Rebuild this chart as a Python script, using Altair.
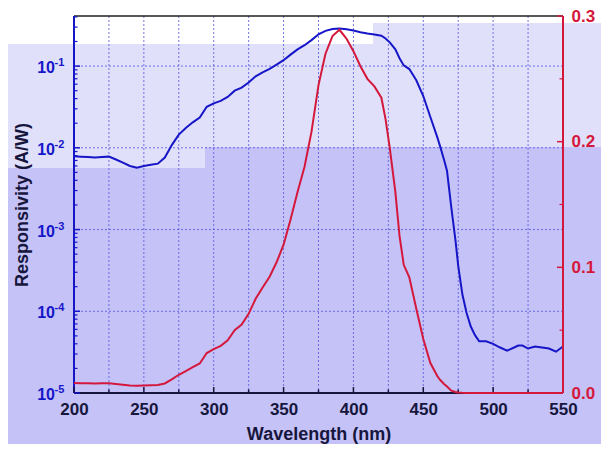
import altair as alt
import pandas as pd

# ---- data ----
wavelength = [200, 205, 210, 215, 220, 225, 230, 235, 240, 245, 250, 255, 260, 265, 270,
              275, 280, 285, 290, 295, 300, 305, 310, 315, 320, 325, 330, 335, 340, 345,
              350, 355, 360, 365, 370, 375, 380, 385, 390, 395, 400, 405, 410, 415, 420,
              423, 426, 430, 433, 436, 440, 445, 450, 455, 460, 462, 465, 467, 470, 473,
              475, 478, 481, 484, 487, 490, 495, 500, 505, 510, 515, 518, 521, 525, 530,
              535, 540, 545, 550]
responsivity = [0.0079, 0.0078, 0.0077, 0.0076, 0.0077, 0.0078, 0.0072, 0.0066, 0.0060, 0.0057,
                0.0060, 0.0062, 0.0064, 0.0076, 0.0108, 0.0145, 0.0175, 0.0205, 0.0235, 0.0318,
                0.0350, 0.0375, 0.0420, 0.0500, 0.0545, 0.0630, 0.0750, 0.0840, 0.0925, 0.1040,
                0.1180, 0.1380, 0.1600, 0.1800, 0.2080, 0.2450, 0.2700, 0.2840, 0.2890, 0.2820,
                0.2720, 0.2600, 0.2500, 0.2440, 0.2350, 0.2180, 0.1950, 0.1600, 0.1250, 0.1020,
                0.0920, 0.0670, 0.0430, 0.0240, 0.0135, 0.0105, 0.0070, 0.0052, 0.0019, 0.00075,
                0.00036, 0.00016, 0.000095, 0.000065, 0.000051, 0.000043, 0.000043, 0.000040,
                0.000036, 0.000033, 0.000036, 0.000038, 0.000038, 0.000035, 0.000037, 0.000036,
                0.000035, 0.000032, 0.000037]

x_major = [200, 250, 300, 350, 400, 450, 500, 550]
x_minor = [225, 275, 325, 375, 425, 475, 525]
decades = [1e-5, 1e-4, 1e-3, 1e-2, 1e-1]
decade_exp = ["-5", "-4", "-3", "-2", "-1"]
log_minor = [2e-5, 3e-5, 4e-5, 5e-5, 6e-5, 7e-5, 8e-5, 9e-5,
             2e-4, 3e-4, 4e-4, 5e-4, 6e-4, 7e-4, 8e-4, 9e-4,
             2e-3, 3e-3, 4e-3, 5e-3, 6e-3, 7e-3, 8e-3, 9e-3,
             2e-2, 3e-2, 4e-2, 5e-2, 6e-2, 7e-2, 8e-2, 9e-2,
             2e-1, 3e-1, 4e-1]
lin_major = [0.0, 0.1, 0.2, 0.3]
lin_minor = [0.05, 0.15, 0.25]

# ---- styling ----
W, H = 489, 377
FONT = "Liberation Sans"
BLUE = "#1616c8"
RED = "#d4183c"
NAVY = "#16163c"
GRID = "#5c5ce0"
LIGHT = "#e0e0fb"
DARK = "#c5c2f8"

df = pd.DataFrame({"W": wavelength, "R": responsivity})
df_xmaj = pd.DataFrame({"W": x_major})
df_xmin = pd.DataFrame({"W": x_minor})
df_xgrid = pd.DataFrame({"W": x_minor + x_major[1:-1]})
df_dec = pd.DataFrame({"R": decades, "exp": decade_exp})
df_decgrid = pd.DataFrame({"R": decades[1:]})
df_logmin = pd.DataFrame({"R": log_minor})
df_linmaj = pd.DataFrame({"R": lin_major})
df_linmin = pd.DataFrame({"R": lin_minor})
one = pd.DataFrame({"a": [0]})

xs = alt.Scale(domain=[200, 550], nice=False, zero=False)
ys_log = alt.Scale(type="log", domain=[1e-5, 0.41], nice=False)
ys_lin = alt.Scale(domain=[0, 0.3], nice=False, zero=False)

x_axis = alt.Axis(values=x_major, title="Wavelength (nm)", grid=False, ticks=False, domain=False,
                  labelFont=FONT, labelFontSize=17, labelFontWeight="bold", labelColor=NAVY,
                  labelPadding=8, labelFlush=False, labelOverlap=False,
                  titleFont=FONT, titleFontSize=18, titleFontWeight="bold", titleColor=NAVY,
                  titleX=W / 2, titleY=41, titleBaseline="middle", zindex=1)
yl_axis = alt.Axis(orient="left", values=decades, labels=False, ticks=False, domain=False, grid=False,
                   title="Responsivity (A/W)", titleFont=FONT, titleFontSize=18,
                   titleFontWeight="bold", titleColor=NAVY, titleX=-52, titleY=H / 2,
                   titleBaseline="middle", zindex=1)
yr_axis = alt.Axis(orient="right", values=lin_major, format=".1f", title="", grid=False,
                   ticks=False, domain=False, labelFont=FONT, labelFontSize=17,
                   labelFontWeight="bold", labelColor=RED, labelPadding=8,
                   labelFlush=False, labelOverlap=False, zindex=1)

X = alt.X("W:Q", scale=xs, axis=x_axis)
YL = alt.Y("R:Q", scale=ys_log, axis=yl_axis)
YR = alt.Y("R:Q", scale=ys_lin, axis=yr_axis)


def rect(x0, x1, y0, y1, color):
    return alt.Chart(one).mark_rect(color=color).encode(
        x=alt.value(x0), x2=alt.value(x1), y=alt.value(y0), y2=alt.value(y1))


def hline(x0, x1, y, color, w):
    return alt.Chart(one).mark_rule(color=color, strokeWidth=w).encode(
        x=alt.value(x0), x2=alt.value(x1), y=alt.value(y))


def vline(x, y0, y1, color, w):
    return alt.Chart(one).mark_rule(color=color, strokeWidth=w).encode(
        x=alt.value(x), y=alt.value(y0), y2=alt.value(y1))


# background bands (decoration of the original image)
bands = [
    rect(-66, 131, 28, 152, LIGHT),
    rect(131, 299, 28, 131, LIGHT),
    rect(299, 527, 7, 131, LIGHT),
    rect(-66, 299, -8, 28, "white"),
    rect(299, 527, -8, 7, "white"),
]

vgrid = alt.Chart(df_xgrid).mark_rule(color=GRID, strokeWidth=1, strokeDash=[2, 2], opacity=0.85).encode(x=X)
hgrid = alt.Chart(df_decgrid).mark_rule(color=GRID, strokeWidth=1, strokeDash=[2, 2], opacity=0.85).encode(y=YL)

xt_major = alt.Chart(df_xmaj).mark_rule(color=NAVY, strokeWidth=1.5).encode(
    x=X, y=alt.value(H), y2=alt.value(H - 6))
xt_minor = alt.Chart(df_xmin).mark_rule(color=NAVY, strokeWidth=1.5).encode(
    x=X, y=alt.value(H), y2=alt.value(H - 3.5))
yt_major = alt.Chart(df_dec).mark_rule(color=BLUE, strokeWidth=1.5).encode(
    y=YL, x=alt.value(0), x2=alt.value(6))
yt_minor = alt.Chart(df_logmin).mark_rule(color=BLUE, strokeWidth=1.2).encode(
    y=YL, x=alt.value(0), x2=alt.value(3.5))

lab10 = alt.Chart(df_dec).mark_text(font=FONT, fontSize=16, fontWeight="bold", color=BLUE,
                                    align="right", baseline="middle", dy=2).encode(
    y=YL, x=alt.value(-19), text=alt.value("10"))
labexp = alt.Chart(df_dec).mark_text(font=FONT, fontSize=11, fontWeight="bold", color=BLUE,
                                     align="left", baseline="middle", dy=-3).encode(
    y=YL, x=alt.value(-19.5), text="exp:N")

frame = [
    hline(0, W, 0, "#202020", 1.5),
    hline(0, W, H, NAVY, 2),
    vline(0, 0, H, BLUE, 2),
]

blue_line = alt.Chart(df).mark_line(color=BLUE, strokeWidth=2).encode(x=X, y=YL)

left = alt.layer(*bands, vgrid, hgrid, *frame, xt_major, xt_minor, yt_major, yt_minor,
                 lab10, labexp, blue_line)

yr_major = alt.Chart(df_linmaj).mark_rule(color=RED, strokeWidth=1.5).encode(
    y=YR, x=alt.value(W), x2=alt.value(W - 6))
yr_minor = alt.Chart(df_linmin).mark_rule(color=RED, strokeWidth=1.2).encode(
    y=YR, x=alt.value(W), x2=alt.value(W - 3.5))
red_frame = vline(W, 0, H, RED, 2)
red_line = alt.Chart(df).mark_line(color=RED, strokeWidth=2).encode(x=X, y=YR)

right = alt.layer(red_frame, yr_major, yr_minor, red_line)

chart = alt.layer(left, right).resolve_scale(y="independent").properties(
    width=W, height=H,
    autosize=alt.AutoSizeParams(type="none"),
    padding={"left": 66, "top": 8, "right": 38, "bottom": 51},
).configure(background=DARK, font=FONT).configure_view(stroke=None)

chart.save("out.html", embed_options={"renderer": "svg", "actions": False})
